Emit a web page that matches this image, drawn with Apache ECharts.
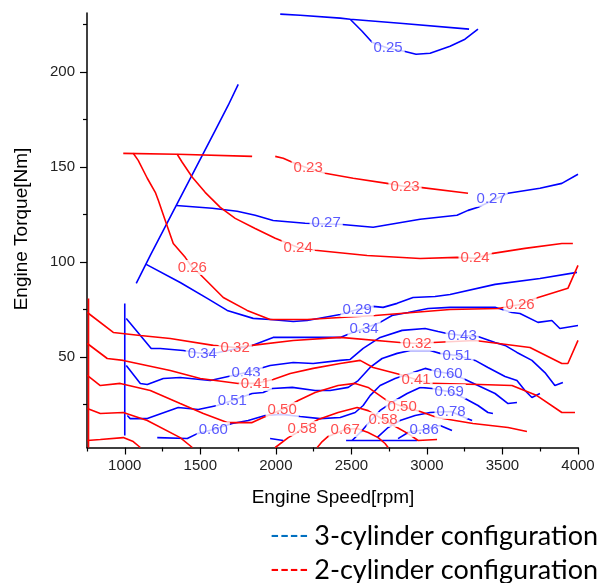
<!DOCTYPE html>
<html><head><meta charset="utf-8">
<script src="https://cdn.jsdelivr.net/npm/echarts@6/dist/echarts.min.js"></script>
<style>html,body{margin:0;padding:0;background:#fff}#c{width:607px;height:583px}</style>
</head><body><div id="c"></div>
<script>
// ---- tick labels ----
const xTickLabels = [1000, 1500, 2000, 2500, 3000, 3500, 4000];
const xMinorTicks = [750, 1250, 1750, 2250, 2750, 3250, 3750];
const yTickLabels = [50, 100, 150, 200];
const yMinorTicks = [25, 75, 125, 175, 225];

// ---- 3-cylinder (blue) contour lines [rpm, Nm] ----
const blue025a = [[2029,230.4],[2161,229.8],[2426,228.3],[2492,227.7],[2822,225.6],[3279,222.5]];
const blue025b = [[2492,227.7],[2571,221.4],[2637,215.6],[2743,212.5],[2849,210.9],[2928,209.3],[3021,209.8],[3153,213.5],[3252,217.2],[3338,222.5]];
const blueDiag = [[1751,193.5],[1685,182.5],[1599,169.3],[1341,129.8],[1169,103.5],[1076,88.8]];
const blueVert = [[1000,78.2],[1000,8.8]];
const blue027 = [[1341,129.8],[1579,128.3],[1744,126.7],[1863,124.6],[1982,121.9],[2194,120.4],[2439,119.8],[2644,118.3],[2955,122.5],[3199,124.6],[3272,127.2],[3338,128.8],[3537,136.2],[3748,138.8],[3893,141.4],[4000,146.2]];
const blue029 = [[1142,98.8],[1367,89.3],[1546,80.9],[1678,74.6],[1850,70.4],[1962,69.8],[2115,68.8],[2207,69.3],[2426,72.4],[2538,75.1],[2644,76.7],[2710,76.2],[2803,78.3],[2908,81.4],[3054,81.9],[3153,83.0],[3451,88.3],[3748,91.4],[3993,94.6]];
const blue034 = [[1010,70.4],[1175,54.6],[1235,54.6],[1387,53.5],[1513,51.9],[1619,52.5],[1843,56.2],[1982,60.4],[2142,60.4],[2426,60.4],[2492,62.5],[2584,65.1],[2690,68.3],[2769,71.9],[2875,73.5],[3008,75.6],[3153,76.2],[3451,76.2],[3563,73.5],[3616,73.0],[3735,68.3],[3827,69.3],[3880,65.1],[4000,66.7]];
const blue043 = [[1010,45.6],[1103,36.2],[1149,35.6],[1255,38.8],[1367,39.3],[1566,37.7],[1803,41.9],[1962,45.6],[2115,47.2],[2247,46.7],[2426,48.3],[2492,48.8],[2578,54.6],[2690,60.4],[2836,64.1],[2988,65.1],[3074,63.5],[3133,62.5],[3233,61.4],[3338,60.9],[3451,57.7],[3517,56.2],[3596,52.5],[3695,48.3],[3781,41.9],[3847,35.1],[3900,36.7]];
const blue051 = [[1017,19.3],[1036,17.7],[1149,17.7],[1354,23.5],[1486,22.5],[1612,24.6],[1712,27.2],[1843,30.9],[1916,31.4],[1976,33.5],[2109,34.1],[2260,32.5],[2359,32.5],[2479,34.1],[2545,37.7],[2624,44.6],[2703,49.3],[2803,52.0],[2889,53.5],[3021,53.5],[3087,52.0],[3199,50.9],[3319,48.3],[3404,44.6],[3517,39.8],[3596,37.7],[3649,32.5],[3695,28.8],[3748,30.9]];
const blue060 = [[1215,7.7],[1414,7.2],[1480,9.8],[1586,12.0],[1711,15.1],[1817,16.7],[1929,19.3],[2042,19.9],[2161,18.8],[2293,17.7],[2426,18.3],[2525,20.9],[2578,24.6],[2624,29.8],[2690,35.1],[2789,38.8],[2908,41.9],[2988,44.1],[3041,43.0],[3140,41.4],[3239,38.8],[3338,35.1],[3451,30.9],[3537,25.6],[3596,26.2]];
const blue069 = [[2505,6.2],[2571,11.4],[2611,15.1],[2690,22.0],[2789,27.2],[2869,30.9],[2955,34.1],[3034,33.5],[3147,31.9],[3252,28.3],[3338,24.6],[3404,20.9],[3437,20.4]];
const blue078 = [[2670,7.7],[2743,13.0],[2822,16.7],[2922,19.3],[3021,20.9],[3160,21.4],[3265,17.7],[3299,16.7]];
const blue086 = [[2809,7.2],[2875,10.4],[2982,12.0],[3087,14.1],[3166,11.4]];
const blueBottom = [[2465,6.2],[2935,6.2]];
const blueShort = [[1962,7.2],[2049,6.2]];

// ---- 2-cylinder (red) contour lines [rpm, Nm] ----
const red023a = [[990,157.2],[1347,156.7],[1843,155.6]];
const red023b = [[1996,155.6],[2049,154.6],[2109,152.5],[2214,149.3],[2326,146.7],[2512,144.1],[2736,141.4],[2855,139.8],[2955,139.3],[3272,136.2]];
const red026 = [[1056,157.2],[1089,153.5],[1149,144.1],[1202,136.7],[1222,132.5],[1268,121.9],[1321,109.8],[1400,102.5],[1447,97.2],[1500,93.5],[1652,81.4],[1810,74.6],[1962,69.8],[2207,69.8],[2426,70.9],[2657,71.9],[3153,75.1],[3471,75.6],[3616,77.7],[3715,80.9],[3933,86.2],[4000,98.3]];
const red024 = [[1347,156.7],[1380,152.5],[1447,144.6],[1532,136.7],[1632,128.8],[1731,123.0],[1863,117.7],[1996,112.5],[2148,107.7],[2260,106.2],[2604,103.5],[2955,101.9],[3199,102.5],[3319,102.0],[3437,104.6],[3649,107.2],[3893,109.8],[3966,109.8]];
const red032 = [[752,73.5],[924,63.0],[1103,61.4],[1301,59.8],[1586,56.2],[1731,55.1],[1843,56.2],[2115,58.8],[2426,60.4],[2822,57.7],[2935,57.2],[3041,57.7],[3319,58.8],[3682,55.1],[3893,46.7],[3933,46.7],[4000,58.8]];
const red041 = [[752,57.2],[884,49.3],[990,48.3],[1301,43.0],[1500,38.8],[1751,36.2],[1864,36.2],[1982,38.3],[2095,41.4],[2247,44.1],[2426,46.7],[2558,48.3],[2644,44.6],[2822,40.9],[2928,38.3],[3021,36.2],[3351,35.6],[3563,35.1],[3728,29.8],[3893,20.9],[3980,20.9]];
const red050 = [[752,40.4],[838,35.1],[970,36.2],[1169,32.5],[1367,25.6],[1520,20.4],[1678,15.6],[1843,15.6],[1916,18.3],[2042,22.5],[2148,27.2],[2260,31.4],[2412,35.1],[2525,36.2],[2611,34.1],[2736,27.2],[2836,24.1],[2955,21.4],[3067,18.3],[3305,15.1],[3537,13.0],[3662,10.9]];
const red058a = [[752,23.0],[838,20.4],[990,20.9],[1149,16.7],[1367,7.7],[1447,2.5]];
const red058b = [[1996,2.5],[2082,7.7],[2142,10.4],[2174,12.5],[2280,17.2],[2412,20.9],[2538,23.5],[2611,21.9],[2657,19.8],[2710,17.2],[2803,13.0],[2875,9.8],[2942,6.2],[3067,6.7]];
const red067a = [[752,6.2],[838,6.7],[990,7.7],[1056,5.6],[1103,2.5]];
const red067b = [[2274,2.5],[2307,5.6],[2346,8.3],[2459,12.0],[2538,12.5],[2611,10.4],[2677,7.7],[2723,4.6],[2743,2.5]];
const redEdge = [[760,80.9],[760,2.5]];

// ---- contour labels [text, rpm, Nm] ----
const blueLabels = [['0.25',2743,212.5],['0.27',2333,120.4],['0.27',3425,133.0],['0.29',2538,75.1],['0.34',1513,51.9],['0.34',2584,65.1],['0.43',1803,41.9],['0.43',3233,61.4],['0.51',1712,27.2],['0.51',3199,50.9],['0.60',1586,12.0],['0.60',3140,41.4],['0.69',3147,31.9],['0.78',3160,21.4],['0.86',2982,12.0]];
const redLabels = [['0.23',2214,149.3],['0.23',2855,139.8],['0.26',1447,97.2],['0.26',3616,77.7],['0.24',2148,107.7],['0.24',3319,102.0],['0.32',1731,55.1],['0.32',2935,57.2],['0.41',1864,36.2],['0.41',2928,38.3],['0.50',2042,22.5],['0.50',2836,24.1],['0.58',2174,12.5],['0.58',2710,17.2],['0.67',2459,12.0]];

const blueLines = [blue025a, blue025b, blueDiag, blueVert, blue027, blue029, blue034, blue043, blue051, blue060, blue069, blue078, blue086, blueBottom, blueShort];
const redLines = [red023a, red023b, red026, red024, red032, red041, red050, red058a, red058b, red067a, red067b, redEdge];

const BLUE = '#0000ff', RED = '#ff0000';
const FONT = 'Liberation Sans';

function lineSeries(data, color) {
  return { type: 'line', data: data, showSymbol: false, symbol: 'none', silent: true, z: 2,
    lineStyle: { color: color, width: 1.6 }, animation: false };
}
function labelSeries(list, color) {
  return { type: 'scatter', silent: true, z: 10, symbolSize: 1, animation: false,
    itemStyle: { color: 'rgba(0,0,0,0)' },
    data: list.map(function (d) { return { name: d[0], value: [d[1], d[2]] }; }),
    label: { show: true, position: 'inside', formatter: '{b}', color: color, fontSize: 15,
      fontFamily: FONT, backgroundColor: '#fff', padding: [0, 2] } };
}

const series = [];
blueLines.forEach(function (d) { series.push(lineSeries(d, BLUE)); });
redLines.forEach(function (d) { series.push(lineSeries(d, RED)); });
series.push(labelSeries(blueLabels, '#3030ff'));
series.push(labelSeries(redLabels, '#ff2020'));

const plain = function (v) { return String(v); };

const chart = echarts.init(document.getElementById('c'));
chart.setOption({
  animation: false,
  backgroundColor: '#fff',
  grid: { left: 87, right: 29, top: 13, bottom: 135.5, containLabel: false },
  xAxis: [{
    type: 'value', min: 750, max: 4000, position: 'bottom',
    axisLine: { show: true, onZero: false, lineStyle: { color: '#000', width: 1.5 } },
    axisTick: { show: true, customValues: xTickLabels, length: 7, lineStyle: { color: '#000', width: 1.2 } },
    axisLabel: { customValues: xTickLabels, formatter: plain, color: '#222', fontSize: 15, fontFamily: FONT, margin: 11 },
    splitLine: { show: false }
  }, {
    type: 'value', min: 750, max: 4000, position: 'bottom', gridIndex: 0,
    axisLine: { show: false },
    axisTick: { show: true, customValues: xMinorTicks, length: 4, lineStyle: { color: '#000', width: 1.2 } },
    axisLabel: { show: false }, splitLine: { show: false }
  }],
  yAxis: [{
    type: 'value', min: 2.5, max: 231, position: 'left',
    axisLine: { show: true, onZero: false, lineStyle: { color: '#000', width: 1.5 } },
    axisTick: { show: true, customValues: yTickLabels, length: 7, lineStyle: { color: '#000', width: 1.2 } },
    axisLabel: { customValues: yTickLabels, formatter: plain, color: '#222', fontSize: 15, fontFamily: FONT, margin: 12 },
    splitLine: { show: false }
  }, {
    type: 'value', min: 2.5, max: 231, position: 'left',
    axisLine: { show: false },
    axisTick: { show: true, customValues: yMinorTicks, length: 4, lineStyle: { color: '#000', width: 1.2 } },
    axisLabel: { show: false }, splitLine: { show: false }
  }],
  graphic: [
    { type: 'text', x: 333, y: 498, silent: true,
      style: { text: 'Engine Speed[rpm]', font: '19px "Liberation Sans"', fill: '#000', align: 'center', verticalAlign: 'middle' } },
    { type: 'text', x: 22, y: 229, rotation: Math.PI / 2, silent: true,
      style: { text: 'Engine Torque[Nm]', font: '19px "Liberation Sans"', fill: '#000', align: 'center', verticalAlign: 'middle' } },
    { type: 'text', x: 270, y: 536, silent: true,
      style: { text: '----', font: '26px Lato', fill: '#0070c0', align: 'left', verticalAlign: 'middle' } },
    { type: 'text', x: 598, y: 536, silent: true,
      style: { text: '3-cylinder configuration', font: '27px Lato', fill: '#000', align: 'right', verticalAlign: 'middle' } },
    { type: 'text', x: 270, y: 570, silent: true,
      style: { text: '----', font: '26px Lato', fill: '#ff0000', align: 'left', verticalAlign: 'middle' } },
    { type: 'text', x: 598, y: 570, silent: true,
      style: { text: '2-cylinder configuration', font: '27px Lato', fill: '#000', align: 'right', verticalAlign: 'middle' } }
  ],
  series: series
});
</script>
</body></html>
